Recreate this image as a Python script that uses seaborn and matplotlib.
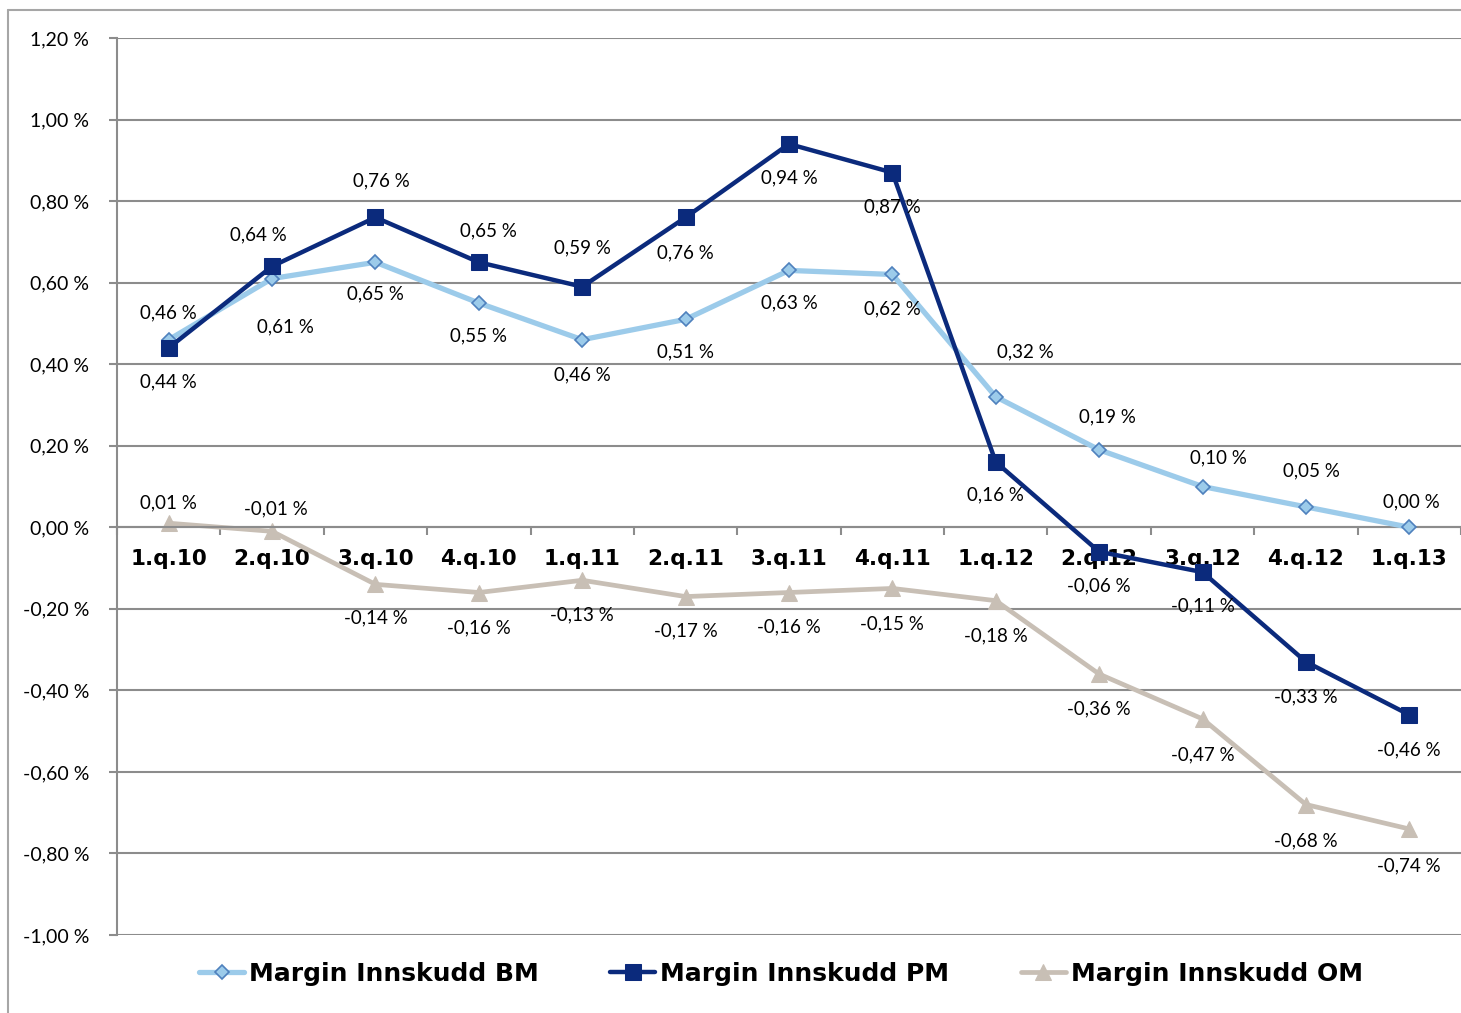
import matplotlib
matplotlib.use("Agg")
import matplotlib.pyplot as plt
from matplotlib.lines import Line2D
from matplotlib.ticker import FixedLocator, FuncFormatter
import seaborn as sns

# Data
quarters = ['1.q.10', '2.q.10', '3.q.10', '4.q.10', '1.q.11', '2.q.11', '3.q.11',
            '4.q.11', '1.q.12', '2.q.12', '3.q.12', '4.q.12', '1.q.13']
margin_bm = [0.46, 0.61, 0.65, 0.55, 0.46, 0.51, 0.63, 0.62, 0.32, 0.19, 0.10, 0.05, 0.00]
margin_pm = [0.44, 0.64, 0.76, 0.65, 0.59, 0.76, 0.94, 0.87, 0.16, -0.06, -0.11, -0.33, -0.46]
margin_om = [0.01, -0.01, -0.14, -0.16, -0.13, -0.17, -0.16, -0.15, -0.18, -0.36, -0.47, -0.68, -0.74]
y_ticks = [-1.0, -0.8, -0.6, -0.4, -0.2, 0.0, 0.2, 0.4, 0.6, 0.8, 1.0, 1.2]

# label offsets in pixels (dx, dy), positive dy = up
off_bm = [(0, 27), (13, -48), (0, -32), (0, -33), (0, -35), (0, -33), (0, -32),
          (0, -34), (30, 45), (8, 33), (16, 29), (6, 36), (2, 25)]
off_pm = [(0, -34), (-14, 31), (6, 37), (10, 31), (0, 39), (0, -35), (0, -34),
          (0, -34), (0, -33), (0, -34), (0, -34), (0, -35), (0, -35)]
off_om = [(0, 20), (4, 22), (0, -34), (0, -35), (0, -35), (0, -34), (0, -34),
          (0, -35), (0, -35), (0, -35), (0, -36), (0, -36), (0, -37)]

sns.set_style('white')
plt.rcParams['font.family'] = ['DejaVu Sans']

c_bm = '#9ccbea'
c_bm_edge = '#4f81bd'
c_pm = '#0b2a7c'
c_om = '#c8bfb5'
grid_c = '#8c8c8c'

fig = plt.figure(figsize=(14.61, 10.13), dpi=100)
ax = fig.add_axes([117 / 1461, 78 / 1013, 1344 / 1461, 897 / 1013])

x = list(range(len(quarters)))

sns.lineplot(x=x, y=margin_bm, ax=ax, color=c_bm, linewidth=3.8, marker='D',
             markersize=7, markerfacecolor=c_bm, markeredgecolor=c_bm_edge,
             markeredgewidth=1.2, label='Margin Innskudd BM', zorder=3)
sns.lineplot(x=x, y=margin_pm, ax=ax, color=c_pm, linewidth=3.2, marker='s',
             markersize=12, markerfacecolor=c_pm, markeredgecolor=c_pm,
             label='Margin Innskudd PM', zorder=4)
sns.lineplot(x=x, y=margin_om, ax=ax, color=c_om, linewidth=3.4, marker='^',
             markersize=12, markerfacecolor=c_om, markeredgecolor=c_om,
             label='Margin Innskudd OM', zorder=2)


def pct(v):
    return f"{v:.2f}".replace('.', ',') + " %"


for vals, offs in [(margin_bm, off_bm), (margin_pm, off_pm), (margin_om, off_om)]:
    for xi, v, (dx, dy) in zip(x, vals, offs):
        ax.annotate(pct(v), (xi, v), xytext=(dx, dy), textcoords='offset pixels',
                    ha='center', va='center', fontsize=13.5, family='Lato',
                    color='black', zorder=6)

ax.set_xlim(-0.5, 12.455)
ax.set_ylim(-1.0, 1.2)

# grid
ax.yaxis.set_major_locator(FixedLocator(y_ticks))
ax.yaxis.set_major_formatter(FuncFormatter(lambda v, p: pct(v)))
ax.grid(axis='y', color=grid_c, linewidth=1.5)
ax.set_axisbelow(True)

for s in ['top', 'right']:
    ax.spines[s].set_visible(False)
ax.spines['left'].set_color(grid_c)
ax.spines['left'].set_linewidth(1.5)
ax.spines['bottom'].set_position(('data', 0))
ax.spines['bottom'].set_color(grid_c)
ax.spines['bottom'].set_linewidth(1.5)

ax.tick_params(axis='y', direction='out', length=6, width=1.5, color=grid_c,
               pad=14, labelsize=14, labelcolor='black', left=True)
for t in ax.get_yticklabels():
    t.set_family('Lato')

ax.set_xticks(x)
ax.set_xticklabels(quarters, fontsize=15.5, fontweight='bold', color='black')
ax.set_xticks([i - 0.5 for i in range(len(quarters) + 1)], minor=True)
ax.tick_params(axis='x', which='major', length=0, pad=15.5, bottom=True)
ax.tick_params(axis='x', which='minor', direction='out', length=6, width=1.5,
               color=grid_c, bottom=True)
ax.set_xlabel('')
ax.set_ylabel('')

handles, labels = ax.get_legend_handles_labels()
ax.get_legend().remove()
leg = fig.legend(handles, labels, loc='center', bbox_to_anchor=(781 / 1461, 1 - 974 / 1013),
                 ncol=3, frameon=False, prop={'weight': 'bold', 'size': 18},
                 handlelength=1.8, handletextpad=0.2, columnspacing=2.85)
for t in leg.get_texts():
    t.set_color('black')

# outer chart frame
fig.add_artist(Line2D([8 / 1461, 8 / 1461], [0, 1 - 10 / 1013], transform=fig.transFigure,
                      color='#a6a6a6', linewidth=1.5))
fig.add_artist(Line2D([8 / 1461, 1], [1 - 10 / 1013, 1 - 10 / 1013], transform=fig.transFigure,
                      color='#a6a6a6', linewidth=1.5))

fig.savefig('out.png', dpi=100)
